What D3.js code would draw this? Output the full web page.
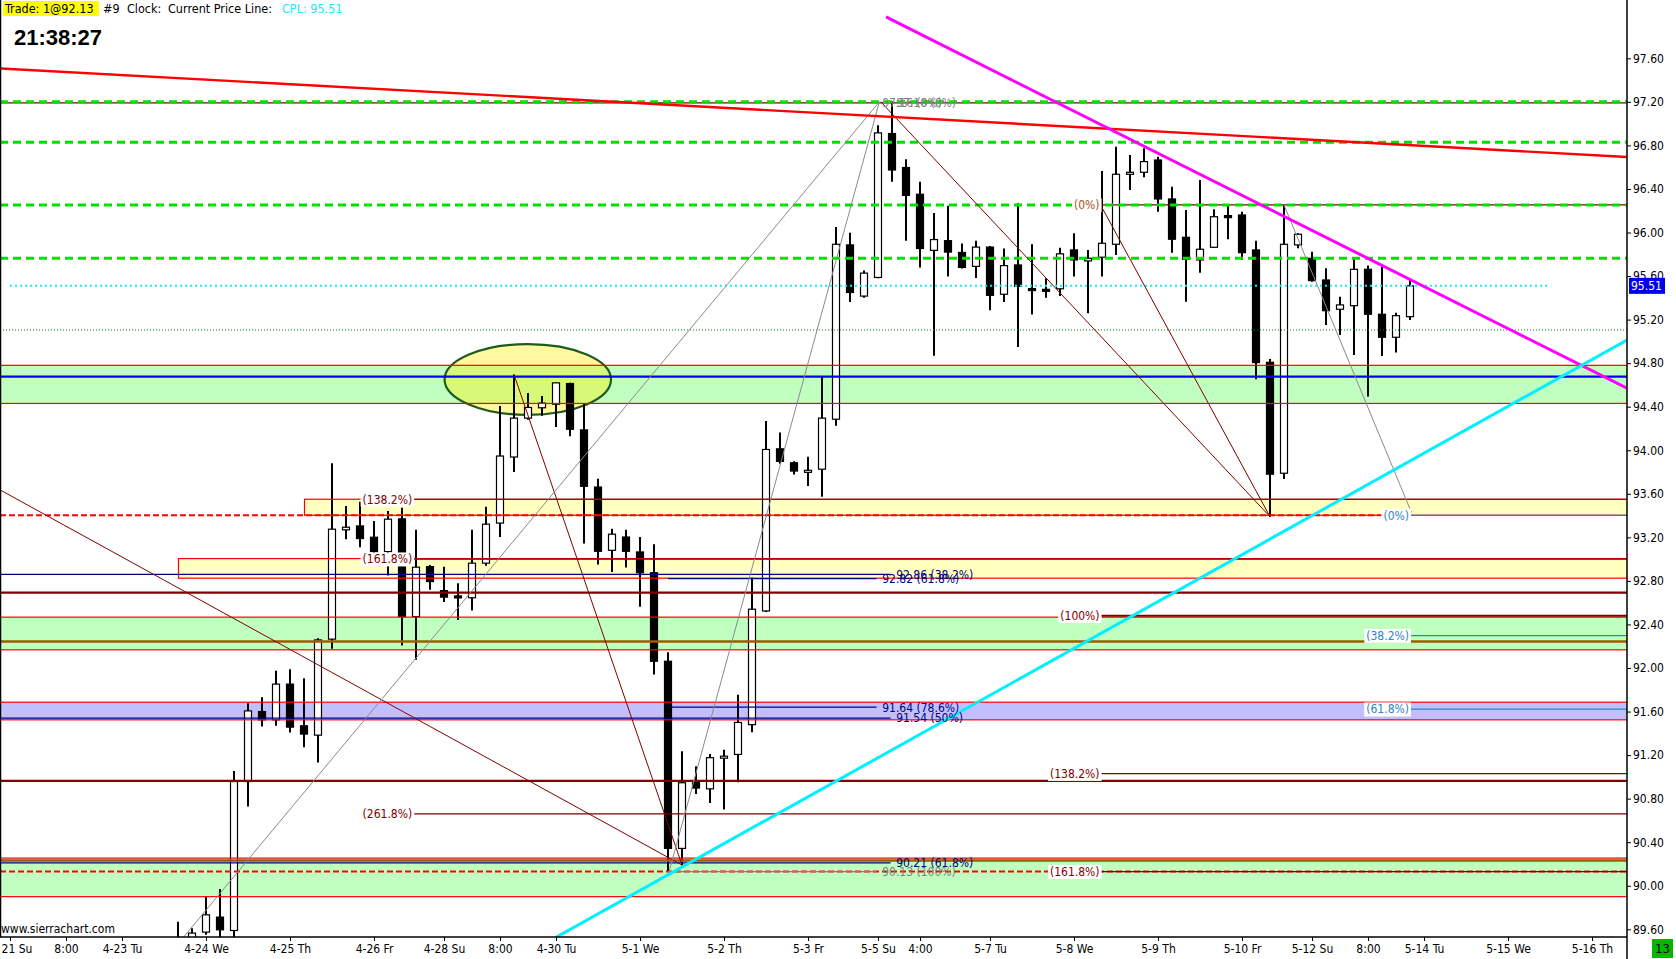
<!DOCTYPE html>
<html><head><meta charset="utf-8">
<script src="https://cdn.jsdelivr.net/npm/d3@7/dist/d3.min.js"></script>
<style>
html,body{margin:0;padding:0;background:#fff;}
svg text{font-family:"DejaVu Sans Condensed","DejaVu Sans",sans-serif;font-stretch:condensed;}
</style></head>
<body>
<svg id="c" width="1676" height="959"></svg>
<script>
// ---------------- DATA ----------------
const firstBar = -2;   // bar index of first candle (0 = 4-24 We)
const opens  = [89.45,89.52,89.574,89.712,89.589,90.957,91.60,91.524,91.852,91.469,91.383,92.265,93.269,93.305,93.201,93.069,93.37,92.472,92.931,92.711,92.662,92.645,92.963,93.331,93.938,94.295,94.39,94.423,94.613,94.187,93.662,93.081,93.203,93.066,92.875,92.062,90.343,90.956,90.89,91.18,91.206,91.48,92.524,94.013,93.885,93.797,93.826,94.285,95.886,95.416,95.587,96.909,96.597,96.351,95.836,95.925,95.817,95.689,95.866,95.433,95.702,95.485,95.478,95.483,95.84,95.739,95.773,95.892,96.535,96.553,96.666,96.308,95.956,95.748,95.864,96.155,96.161,95.84,94.808,93.789,95.886,95.763,95.564,95.295,95.328,95.662,95.249,95.038,95.227];
const highs  = [89.67,89.61,89.90,89.97,91.055,91.677,91.732,91.974,91.989,91.907,92.274,93.881,93.489,93.526,93.351,93.443,93.473,93.269,92.947,92.931,92.779,93.269,93.482,94.407,94.696,94.525,94.499,94.62,94.62,94.433,93.738,93.279,93.269,93.203,93.137,92.144,91.235,91.098,91.209,91.25,91.755,92.832,94.269,94.164,93.898,93.941,94.673,96.05,95.997,95.652,96.984,97.204,96.673,96.466,96.18,96.246,95.898,95.925,95.875,95.853,96.269,95.892,95.58,95.859,95.993,95.84,96.565,96.788,96.712,96.774,96.696,96.421,96.207,96.482,96.213,96.244,96.191,95.925,94.839,96.253,95.993,95.824,95.672,95.411,95.754,95.696,95.686,95.264,95.571];
const lows   = [89.35,89.50,89.55,89.45,89.528,90.728,91.462,91.469,91.407,91.273,91.132,92.176,93.183,93.11,93.05,92.849,92.206,92.075,92.718,92.607,92.442,92.527,92.94,93.203,93.80,94.28,94.318,94.213,94.128,93.144,92.951,92.882,92.924,92.563,91.941,90.13,90.186,90.842,90.76,90.70,90.95,91.41,92.515,93.876,93.777,93.672,93.573,94.226,95.361,95.40,95.58,96.466,95.925,95.679,94.869,95.597,95.669,95.581,95.285,95.361,94.948,95.247,95.40,95.416,95.595,95.258,95.595,95.794,96.391,96.507,96.191,95.815,95.365,95.631,95.86,95.938,95.748,94.652,93.39,93.737,95.855,95.548,95.151,95.059,94.876,94.493,94.866,94.897,95.197];
const closes = [89.40,89.565,89.733,89.595,90.957,91.606,91.524,91.852,91.457,91.393,92.258,93.275,93.293,93.189,93.069,93.367,92.472,92.926,92.794,92.651,92.645,92.963,93.321,93.947,94.295,94.393,94.433,94.619,94.193,93.669,93.072,93.229,93.072,92.875,92.062,90.343,90.946,90.897,91.176,91.19,91.50,92.54,94.007,93.898,93.809,93.816,94.295,95.892,95.449,95.627,96.915,96.574,96.341,95.853,95.935,95.82,95.679,95.866,95.423,95.696,95.505,95.478,95.474,95.804,95.748,95.763,95.901,96.535,96.553,96.651,96.308,95.938,95.754,95.846,96.145,96.145,95.815,94.805,93.78,95.892,95.984,95.558,95.282,95.335,95.662,95.249,95.038,95.236,95.51];

const xTickBars   = [-14,-10,-6,0,6,12,17,21,25,31,37,43,48,51,56,62,68,74,79,83,87,93,99];
const xTickLabels = ["21 Su","8:00","4-23 Tu","4-24 We","4-25 Th","4-26 Fr","4-28 Su","8:00","4-30 Tu","5-1 We","5-2 Th","5-3 Fr","5-5 Su","4:00","5-7 Tu","5-8 We","5-9 Th","5-10 Fr","5-12 Su","8:00","5-14 Tu","5-15 We","5-16 Th"];
const yTickValues = [89.6,90.0,90.4,90.8,91.2,91.6,92.0,92.4,92.8,93.2,93.6,94.0,94.4,94.8,95.2,95.6,96.0,96.4,96.8,97.2,97.6];

const lastPrice = 95.51;
const greenZoneLow  = [94.43, 92.167, 89.90];
const greenZoneHigh = [94.78, 92.467, 90.254];
const blueZoneLow  = [91.524];
const blueZoneHigh = [91.686];
const yellowZoneLow   = [93.403, 92.825];
const yellowZoneHigh  = [93.55, 93.005];
const yellowZoneStart = [7, -2];
const greenDashLevels = [97.20, 96.83, 96.253, 95.763];
const redDashLevels   = [93.403, 90.131];
const redDashEnd      = [83.93, 101.5];
const brownLevels     = [92.243, 90.232];
const maroonLevels    = [97.19, 92.693, 90.964];
const blueLevel       = 94.676;
const dottedGreenLevel = 95.105;

// Fibonacci drawings
const fibALevels = [92.86, 91.54, 90.21];
const fibALabels = ["92.86  (38.2%)", "91.54  (50%)", "90.21  (61.8%)"];
const fibBLevels = [92.82, 91.64, 90.13];
const fibBLabels = ["92.82  (61.8%)", "91.64  (78.6%)", "90.13  (100%)"];
const fibTopLabels = ["97.16  (0%)", "97.10  (0%)"];
const fibTopLevel = 97.19;
const fibCLevels = [93.55, 93.00, 90.66];
const fibCLabels = ["(138.2%)", "(161.8%)", "(261.8%)"];
const fibDLevels = [96.253, 92.48, 91.03, 90.13];
const fibDLabels = ["(0%)", "(100%)", "(138.2%)", "(161.8%)"];
const fibELevels = [93.403, 92.298, 91.622];
const fibELabels = ["(0%)", "(38.2%)", "(61.8%)"];

// trend lines: [barIndex, price] pairs
const redTrend     = [[-14.714, 97.507], [101.5, 96.694]];
const magentaTrend = [[48.57, 97.98], [101.5, 94.57]];
const cyanTrend    = [[25, 89.526], [101.5, 95.013]];
const maroonThin   = [
  [[-14.714, 93.636], [34, 90.19]],
  [[22, 94.696], [34, 90.19]],
  [[48.2, 97.20], [76, 93.39]],
  [[63.9, 96.253], [76, 93.39]]
];
const grayThin = [
  [[-2, 89.467], [48.1, 97.20]],
  [[33.1, 90.14], [48.1, 97.20]],
  [[77, 96.253], [86.1, 93.43]]
];
const ellipseBars   = [17.04, 28.93];
const ellipsePrices = [94.325, 94.975];

// ---------------- DRAW ----------------
const svg = d3.select("#c");
const plotR = 1627, plotB = 937;
const x = d3.scaleLinear().domain([-14.714, 101.5]).range([0, plotR]);
const y = d3.scaleLinear().domain([89.6, 97.6]).range([929.3, 58.3]);
const barEnd = 101.5, barStart = -14.714;

svg.append("rect").attr("width",1676).attr("height",959).attr("fill","#fff");
svg.append("defs").append("clipPath").attr("id","plot")
  .append("rect").attr("x",1).attr("y",0).attr("width",plotR-1).attr("height",plotB);
const g = svg.append("g").attr("clip-path","url(#plot)");

function hline(level, i0, i1, color, w, dash){
  const l = g.append("line").attr("x1",x(i0)).attr("x2",x(i1))
    .attr("y1",y(level)).attr("y2",y(level))
    .attr("stroke",color).attr("stroke-width",w);
  if(dash) l.attr("stroke-dasharray",dash);
  return l;
}
function zone(lo, hi, i0, fill){
  g.append("rect").attr("x",x(i0)).attr("width",x(barEnd)-x(i0))
    .attr("y",y(hi)).attr("height",y(lo)-y(hi)).attr("fill",fill);
}
function zoneBorders(lo, hi, i0){
  g.append("rect").attr("x",x(i0)+0.5).attr("width",x(barEnd)-x(i0))
    .attr("y",y(hi)).attr("height",y(lo)-y(hi))
    .attr("fill","none").attr("stroke","#ff0000").attr("stroke-width",1.2);
}

// zone fills
greenZoneLow.forEach((lo,k)=>zone(lo, greenZoneHigh[k], barStart-1, "#c0ffc0"));
blueZoneLow.forEach((lo,k)=>zone(lo, blueZoneHigh[k], barStart-1, "#c0c0ff"));
yellowZoneLow.forEach((lo,k)=>zone(lo, yellowZoneHigh[k], yellowZoneStart[k], "#ffffc0"));

// ellipse
g.append("ellipse")
  .attr("cx",(x(ellipseBars[0])+x(ellipseBars[1]))/2)
  .attr("cy",(y(ellipsePrices[0])+y(ellipsePrices[1]))/2)
  .attr("rx",(x(ellipseBars[1])-x(ellipseBars[0]))/2)
  .attr("ry",(y(ellipsePrices[0])-y(ellipsePrices[1]))/2)
  .attr("fill","rgba(255,236,0,0.38)").attr("stroke","#1e5a1e").attr("stroke-width",2.2);

// candles
const bars = opens.map((o,k)=>({i:firstBar+k,o:o,h:highs[k],l:lows[k],c:closes[k]}));
const cg = g.append("g");
bars.forEach(b=>{
  const cx = Math.round(x(b.i));
  cg.append("line").attr("x1",cx).attr("x2",cx).attr("y1",y(b.h)).attr("y2",y(b.l))
    .attr("stroke","#000").attr("stroke-width",2);
  const top = y(Math.max(b.o,b.c)), bot = y(Math.min(b.o,b.c));
  const hgt = Math.max(bot-top, 2);
  const up = b.c > b.o;
  cg.append("rect").attr("x",cx-3.5).attr("width",7)
    .attr("y",top).attr("height",hgt)
    .attr("fill", up ? "#fff" : "#000")
    .attr("stroke","#000").attr("stroke-width",1.2);
});

// zone borders
greenZoneLow.forEach((lo,k)=>zoneBorders(lo, greenZoneHigh[k], barStart-1));
blueZoneLow.forEach((lo,k)=>zoneBorders(lo, blueZoneHigh[k], barStart-1));
yellowZoneLow.forEach((lo,k)=>zoneBorders(lo, yellowZoneHigh[k], yellowZoneStart[k]));

// horizontal levels
maroonLevels.forEach((v,k)=>hline(v, barStart, barEnd, "#800000", k==0?1.2:2.2));
brownLevels.forEach(v=>hline(v, barStart, barEnd, "#a05a00", 2.5));
hline(blueLevel, barStart, barEnd, "#0000ff", 2.2);
hline(dottedGreenLevel, barStart, barEnd, "#008000", 1, "1,2");
redDashLevels.forEach((v,k)=>hline(v, barStart, redDashEnd[k], "#ff0000", 2, "6,3"));

// fib sets A and B (navy lines, transparent labels)
const fibAEnd = 48.9, fibBStart = 33, fibBEnd = 47.9;
fibALevels.forEach(v=>hline(v, barStart, fibAEnd, "#000080", 1.2));
fibBLevels.forEach((v,k)=>hline(v, fibBStart, fibBEnd, k==2?"#808080":"#000080", 1.2));

function label(txt, xpos, level, anchor, color, bg){
  const t = g.append("text").attr("x",xpos).attr("y",y(level)).attr("dy","0.36em")
    .attr("text-anchor",anchor).attr("font-size","12px").attr("fill",color).text(txt);
  if(bg){
    const bb = t.node().getBBox();
    g.insert("rect", function(){return t.node();})
      .attr("x",bb.x-2).attr("y",bb.y).attr("width",bb.width+4).attr("height",bb.height)
      .attr("fill","#fff");
  }
  return t;
}

// fib C
const fibCLabelEnd = 14.8;
fibCLevels.forEach((v,k)=>{
  hline(v, fibCLabelEnd, barEnd, "#800000", 1.2);
  label(fibCLabels[k], x(fibCLabelEnd)-1, v, "end", "#800000", true);
});
// fib D
const fibDLabelEnd = 63.9;
fibDLevels.forEach((v,k)=>{
  hline(v, fibDLabelEnd, barEnd, "#800000", k==1?2.2:1.2);
});
// fib E
const fibELabelEnd = 86.0;
fibELevels.forEach((v,k)=>{
  hline(v, fibELabelEnd, barEnd, "#2e86c1", 1.2);
});

// green dashed levels
greenDashLevels.forEach(v=>hline(v, barStart, barEnd, "#00e000", 3, "8,5"));

// CPL dotted
hline(lastPrice, -14, 96.0, "#22e6ff", 2, "2,3");

// trend lines
const lineGen = d3.line().x(d=>x(d[0])).y(d=>y(d[1]));
maroonThin.forEach(p=>g.append("path").attr("d",lineGen(p)).attr("stroke","#800000").attr("stroke-width",1).attr("fill","none"));
grayThin.forEach(p=>g.append("path").attr("d",lineGen(p)).attr("stroke","#8a8a8a").attr("stroke-width",1).attr("fill","none"));
g.append("path").attr("d",lineGen(redTrend)).attr("stroke","#ff0000").attr("stroke-width",2.4).attr("fill","none");
g.append("path").attr("d",lineGen(magentaTrend)).attr("stroke","#ff00ff").attr("stroke-width",3).attr("fill","none");
g.append("path").attr("d",lineGen(cyanTrend)).attr("stroke","#00f0ff").attr("stroke-width",3).attr("fill","none");

// labels (on top)
fibDLevels.forEach((v,k)=>label(fibDLabels[k], x(fibDLabelEnd)-1, v, "end", k==0?"#b05020":"#800000", true));
fibELevels.forEach((v,k)=>label(fibELabels[k], x(fibELabelEnd)-1, v, "end", "#2e86c1", true));
const fibALabelX = 49.3, fibBLabelX = 48.3;
fibALevels.forEach((v,k)=>label(fibALabels[k], x(fibALabelX), v, "start", "#000080", false));
fibBLevels.forEach((v,k)=>label(fibBLabels[k], x(fibBLabelX), v, "start", k==2?"#808080":"#000080", false));
label(fibTopLabels[0], x(fibBLabelX), fibTopLevel, "start", "#808080", false);
label(fibTopLabels[1], x(fibALabelX), fibTopLevel, "start", "#808080", false);

// watermark
g.append("text").attr("x",1).attr("y",933).attr("font-size","12px").attr("fill","#000").text("www.sierrachart.com");

// frame
svg.append("line").attr("x1",0.5).attr("x2",0.5).attr("y1",0).attr("y2",plotB).attr("stroke","#000").attr("stroke-width",1.5);
svg.append("line").attr("x1",plotR).attr("x2",plotR).attr("y1",0).attr("y2",959).attr("stroke","#000").attr("stroke-width",1.5);
svg.append("line").attr("x1",0).attr("x2",plotR).attr("y1",plotB).attr("y2",plotB).attr("stroke","#000").attr("stroke-width",1.5);

// right axis
const ra = svg.append("g").attr("transform",`translate(${plotR},0)`)
  .call(d3.axisRight(y).tickValues(yTickValues).tickFormat(d3.format(".2f")).tickSize(4).tickPadding(2));
ra.select(".domain").remove();
ra.selectAll("text").attr("font-size","12px").attr("font-family",null).attr("fill","#000");
ra.selectAll("line").attr("stroke","#000");

// last price box
svg.append("rect").attr("x",plotR+2).attr("y",y(lastPrice)-8).attr("width",36).attr("height",16).attr("fill","#0000f0");
svg.append("text").attr("x",plotR+4).attr("y",y(lastPrice)).attr("dy","0.36em").attr("font-size","12px").attr("fill","#fff").text(d3.format(".2f")(lastPrice));

// bottom axis
const ba = svg.append("g").attr("transform",`translate(0,${plotB})`)
  .call(d3.axisBottom(x).tickValues(xTickBars).tickFormat((d,k)=>xTickLabels[k]).tickSize(4).tickPadding(3));
ba.select(".domain").remove();
ba.selectAll("text").attr("font-size","12px").attr("font-family",null).attr("fill","#000");
ba.selectAll("line").attr("stroke","#000");
// first label is cut by the left edge in the original: keep its visible part left-aligned
ba.selectAll(".tick").filter((d,k)=>k===0).select("text")
  .attr("text-anchor","start").attr("x", 1 - x(xTickBars[0]));

// bottom-right box
svg.append("rect").attr("x",1652).attr("y",939).attr("width",21).attr("height",19).attr("fill","#00b800");
svg.append("text").attr("x",1662.5).attr("y",953).attr("text-anchor","middle").attr("font-size","13px").attr("fill","#000").text("13");

// header
svg.append("rect").attr("x",3).attr("y",1).attr("width",96).attr("height",15).attr("fill","#ffff00");
const hdr = [["Trade: 1@92.13",5,"#000"],["#9",103,"#000"],["Clock:",127,"#000"],["Current Price Line:",168,"#000"],["CPL: 95.51",282,"#22e6ff"]];
hdr.forEach(h=>svg.append("text").attr("x",h[1]).attr("y",13).attr("font-size","12.5px").attr("fill",h[2]).text(h[0]));
svg.append("text").attr("x",14).attr("y",45).attr("font-size","22px").attr("font-weight","bold")
  .style("font-family","'Liberation Sans',Arial,sans-serif").style("font-stretch","normal").attr("fill","#000").text("21:38:27");
</script>
</body></html>
